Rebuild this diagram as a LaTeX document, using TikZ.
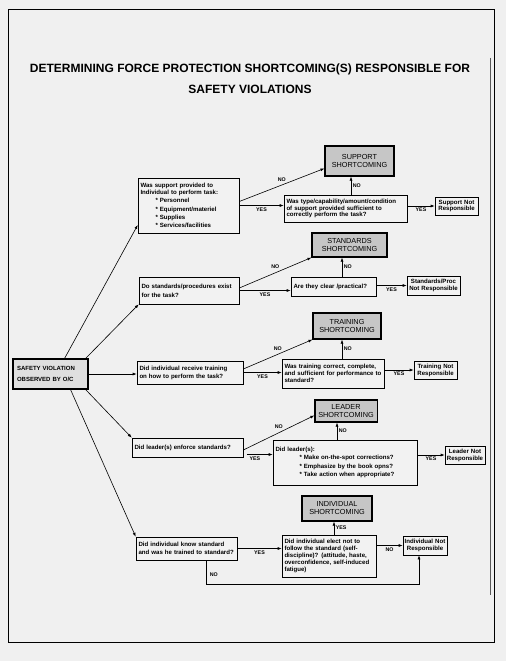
\documentclass[tikz,border=0pt]{standalone}
\usepackage{fontspec}
\setmainfont{Liberation Sans}
\usetikzlibrary{arrows.meta}

\begin{document}
\begin{tikzpicture}[
  x=1pt, y=-1pt,
  >={Latex[length=4pt,width=3pt]},
  qbox/.style={draw=black, fill=white!95!black, line width=0.6pt, inner xsep=2.5pt, inner ysep=1pt,
    align=left, font=\fontsize{6.1}{6.9}\selectfont\bfseries},
  nrbox/.style={qbox, align=center, inner xsep=0.5pt},
  shortbox/.style={draw=black, fill=gray!45, line width=1.1pt, align=center,
    font=\fontsize{7.3}{8}\selectfont},
  startbox/.style={draw=black, fill=gray!25, line width=1.4pt, inner xsep=4pt, align=left,
    font=\fontsize{6}{11}\selectfont\bfseries},
  flow/.style={->, line width=0.6pt},
  ans/.style={font=\fontsize{5.3}{5.3}\selectfont\bfseries, inner sep=1.5pt}
]
  % page
  \fill[gray!12] (0,0) rectangle (506,661);
  \useasboundingbox (0,0) rectangle (506,661);
  \draw[line width=0.9pt] (8,9) rectangle (494,642);
  \draw[line width=0.6pt, gray!70!black] (490,58) -- (490,595);

  \node[align=center, font=\fontsize{12}{21}\selectfont\bfseries] (ttl) at (250,78.5)
    {DETERMINING FORCE PROTECTION SHORTCOMING(S) RESPONSIBLE FOR\\SAFETY VIOLATIONS};

  \node[startbox, text width=67pt, minimum height=30pt] (sv) at (50.5,374)
    {SAFETY VIOLATION\\OBSERVED BY O/C};

  % support
  \node[qbox, text width=96pt, minimum height=55pt] (supq) at (188.5,205.5)
    {Was support provided to\\Individual to perform task:\\[1.5pt]
     \hspace*{15pt}* Personnel\\[1.5pt]
     \hspace*{15pt}* Equipment/materiel\\[1.5pt]
     \hspace*{15pt}* Supplies\\[1.5pt]
     \hspace*{15pt}* Services/facilities};
  \node[qbox, text width=118pt, minimum height=27pt] (supq2) at (345.5,208.5)
    {Was type/capability/amount/condition\\of support provided sufficient to\\correctly perform the task?};
  \node[nrbox, text width=42pt, minimum height=18pt] (supnr) at (456.5,206)
    {Support Not\\Responsible};
  \node[shortbox, minimum width=69pt, minimum height=30pt] (supsc) at (359.5,161)
    {SUPPORT\\SHORTCOMING};
  \draw[flow] ([yshift=4pt]supq.east) -- (supsc.192) node[ans, midway, above=2pt] {NO};
  \draw[flow] (supq.east) -- (supq.east -| supq2.west) node[ans, midway, below] {YES};
  \draw[flow] ([xshift=5.5pt]supq2.north) -- ([xshift=5.5pt]supq2.north |- supsc.south)
    node[ans, midway, right] {NO};
  \draw[flow] (supq2.east |- supnr.west) -- (supnr.west) node[ans, midway, below] {YES};

  % standards
  \node[qbox, text width=95pt, minimum height=27pt] (stdq) at (189,290.5)
    {Do standards/procedures exist\\[2pt]for the task?};
  \node[qbox, text width=80pt, minimum height=19pt] (stdq2) at (333.5,286.5)
    {Are they clear /practical?};
  \node[nrbox, text width=52pt, minimum height=19pt] (stdnr) at (433.5,285.5)
    {Standards/Proc\\Not Responsible};
  \node[shortbox, minimum width=75pt, minimum height=24pt] (stdsc) at (349.5,245)
    {STANDARDS\\SHORTCOMING};
  \draw[flow] ([yshift=2.5pt]stdq.east) -- (stdsc.south west) node[ans, midway, above=2pt] {NO};
  \draw[flow] (stdq.east) -- (stdq.east -| stdq2.west) node[ans, midway, below] {YES};
  \draw[flow] ([xshift=8.5pt]stdq2.north) -- ([xshift=8.5pt]stdq2.north |- stdsc.south)
    node[ans, midway, right] {NO};
  \draw[flow] (stdq2.east |- stdnr.west) -- (stdnr.west) node[ans, midway, below] {YES};

  % training
  \node[qbox, text width=101pt, minimum height=23pt] (trnq) at (190,372.5)
    {Did individual receive training\\[1pt]on how to perform the task?};
  \node[qbox, text width=97pt, minimum height=29pt] (trnq2) at (333,373.5)
    {Was training correct, complete,\\and sufficient for performance to\\standard?};
  \node[nrbox, text width=42pt, minimum height=18pt] (trnnr) at (435.5,370)
    {Training Not\\Responsible};
  \node[shortbox, minimum width=68pt, minimum height=26pt] (trnsc) at (347,326)
    {TRAINING\\SHORTCOMING};
  \draw[flow] ([yshift=3.5pt]trnq.east) -- (trnsc.south west) node[ans, midway, above=2pt] {NO};
  \draw[flow] (trnq.east) -- (trnq.east -| trnq2.west) node[ans, midway, below] {YES};
  \draw[flow] ([xshift=9pt]trnq2.north) -- ([xshift=9pt]trnq2.north |- trnsc.south)
    node[ans, midway, right] {NO};
  \draw[flow] (trnq2.east |- trnnr.west) -- (trnnr.west) node[ans, midway, below] {YES};

  % leader
  \node[qbox, text width=106pt, minimum height=19pt] (ldrq) at (187.5,447.5)
    {Did leader(s) enforce standards?};
  \node[qbox, text width=139pt, minimum height=45pt] (ldrq2) at (345,462.5)
    {Did leader(s):\\[1.5pt]
     \hspace*{24pt}* Make on-the-spot corrections?\\[1.5pt]
     \hspace*{24pt}* Emphasize by the book opns?\\[1.5pt]
     \hspace*{24pt}* Take action when appropriate?};
  \node[nrbox, text width=39pt, minimum height=18pt] (ldrnr) at (465,455)
    {Leader Not\\Responsible};
  \node[shortbox, minimum width=62pt, minimum height=22pt] (ldrsc) at (346,411)
    {LEADER\\SHORTCOMING};
  \draw[flow] ([yshift=-2.5pt]ldrq.east) -- (ldrsc.188) node[ans, midway, above=2pt] {NO};
  \draw[flow] ([xshift=4pt,yshift=-7pt]ldrq.east) -- ([yshift=-7pt]ldrq.east -| ldrq2.west)
    node[ans, pos=0.3, below] {YES};
  \draw[flow] ([xshift=-8pt]ldrq2.north) -- ([xshift=-8pt]ldrq2.north |- ldrsc.south)
    node[ans, midway, right] {NO};
  \draw[flow] (ldrq2.east |- ldrnr.west) -- (ldrnr.west) node[ans, midway, below] {YES};

  % individual
  \node[qbox, text width=96pt, minimum height=23pt] (indq) at (186.5,548.5)
    {Did individual know standard\\[1pt]and was he trained to standard?};
  \node[qbox, text width=89pt, minimum height=42pt] (indq2) at (329,556)
    {Did individual elect not to\\follow the standard (self-\\discipline)? (attitude, haste,\\overconfidence, self-induced\\fatigue)};
  \node[nrbox, text width=43pt, minimum height=19pt] (indnr) at (425,545.5)
    {Individual Not\\Responsible};
  \node[shortbox, minimum width=70pt, minimum height=25pt] (indsc) at (337,508.5)
    {INDIVIDUAL\\SHORTCOMING};
  \draw[flow] (indq.east) -- (indq.east -| indq2.west) node[ans, midway, below] {YES};
  \draw[flow] ([xshift=5pt]indq2.north) -- ([xshift=5pt]indq2.north |- indsc.south)
    node[ans, midway, right] {YES};
  \draw[flow] (indq2.east |- indnr.west) -- (indnr.west) node[ans, midway, below] {NO};
  \draw[flow] ([xshift=19.5pt]indq.south) |- node[ans, pos=0.3, right=2pt] {NO}
    ([yshift=-7pt]indq2.south) -| ([xshift=-6pt]indnr.south);

  % from the violation
  \draw[flow] (sv.48) -- (supq.201);
  \draw[flow] (sv.24) -- (stdq.south west);
  \draw[flow] (sv.east) -- (sv.east -| trnq.west);
  \draw[flow] (sv.-24) -- (ldrq.north west);
  \draw[flow] (sv.-38) -- (indq.north west);
\end{tikzpicture}
\end{document}
